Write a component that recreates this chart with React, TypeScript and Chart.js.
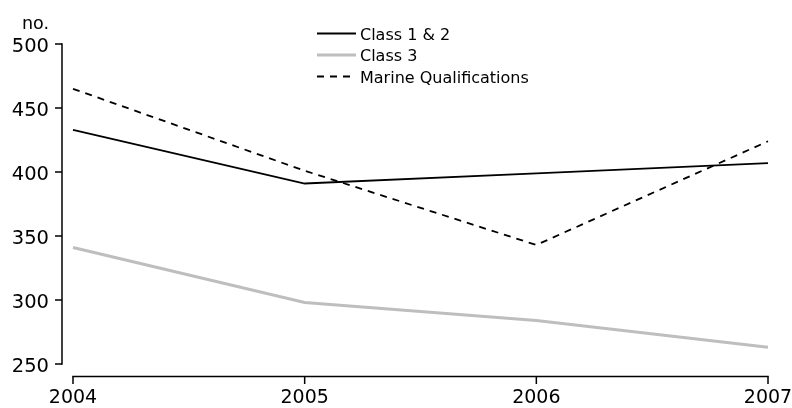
import React, { useEffect, useRef } from "react";
import { Chart, registerables } from "chart.js";

Chart.register(...registerables);

const years = ["2004", "2005", "2006", "2007"];
const class12 = [433, 391, 399, 407];
const class3 = [341, 298, 284, 263];
const marine = [465, 401, 343, 424];
const yTicks = [250, 300, 350, 400, 450, 500];
const yUnit = "no.";

const FONT = "'DejaVu Sans', sans-serif";

const axesPlugin = {
  id: "customAxes",
  afterDraw(chart: any) {
    const ctx = chart.ctx as CanvasRenderingContext2D;
    const xs = chart.scales.x;
    const ys = chart.scales.y;
    ctx.save();
    ctx.strokeStyle = "#000";
    ctx.fillStyle = "#000";
    ctx.lineWidth = 1.5;

    // Y axis
    const axX = 62;
    const yTop = ys.getPixelForValue(yTicks[yTicks.length - 1]);
    const yBot = ys.getPixelForValue(yTicks[0]);
    ctx.beginPath();
    ctx.moveTo(axX, yTop - 0.75);
    ctx.lineTo(axX, yBot + 0.75);
    ctx.stroke();
    ctx.font = `19.5px ${FONT}`;
    ctx.textAlign = "right";
    ctx.textBaseline = "alphabetic";
    yTicks.forEach((v) => {
      const py = ys.getPixelForValue(v);
      ctx.beginPath();
      ctx.moveTo(55, py);
      ctx.lineTo(axX, py);
      ctx.stroke();
      ctx.fillText(String(v), 49, py + 8);
    });

    // unit label
    ctx.font = `17.5px ${FONT}`;
    ctx.textAlign = "right";
    ctx.fillText(yUnit, 49, 28.5);

    // X axis
    const axY = 376.5;
    const xL = xs.getPixelForValue(0);
    const xR = xs.getPixelForValue(years.length - 1);
    ctx.beginPath();
    ctx.moveTo(xL - 0.75, axY);
    ctx.lineTo(xR + 0.75, axY);
    ctx.stroke();
    ctx.font = `19px ${FONT}`;
    ctx.textAlign = "center";
    years.forEach((lab, i) => {
      const px = xs.getPixelForValue(i);
      ctx.beginPath();
      ctx.moveTo(px, axY);
      ctx.lineTo(px, 384);
      ctx.stroke();
      ctx.fillText(lab, px, 403);
    });

    // Legend
    const rows = [33.5, 55, 76.5];
    ctx.font = `16px ${FONT}`;
    ctx.textAlign = "left";
    chart.data.datasets.forEach((ds: any, i: number) => {
      const ry = rows[i];
      ctx.beginPath();
      ctx.strokeStyle = ds.borderColor;
      ctx.lineWidth = ds.borderWidth;
      ctx.setLineDash(ds.borderDash || []);
      ctx.moveTo(317, ry);
      ctx.lineTo(356, ry);
      ctx.stroke();
      ctx.setLineDash([]);
      ctx.fillStyle = "#000";
      ctx.fillText(ds.label, 360, ry + 6);
    });
    ctx.restore();
  },
};

export default function App() {
  const ref = useRef<HTMLCanvasElement | null>(null);
  useEffect(() => {
    if (!ref.current) return;
    const chart = new Chart(ref.current, {
      type: "line",
      data: {
        labels: years,
        datasets: [
          {
            label: "Class 1 & 2",
            data: class12,
            borderColor: "#000000",
            borderWidth: 1.8,
            pointRadius: 0,
            tension: 0,
            fill: false,
          },
          {
            label: "Class 3",
            data: class3,
            borderColor: "#bebebe",
            borderWidth: 3,
            pointRadius: 0,
            tension: 0,
            fill: false,
          },
          {
            label: "Marine Qualifications",
            data: marine,
            borderColor: "#000000",
            borderWidth: 1.8,
            borderDash: [7, 6],
            pointRadius: 0,
            tension: 0,
            fill: false,
          },
        ],
      },
      options: {
        animation: false,
        responsive: false,
        devicePixelRatio: 1,
        layout: { padding: { left: 73, right: 24, top: 44, bottom: 44 } },
        plugins: { legend: { display: false }, tooltip: { enabled: false } },
        scales: {
          x: { type: "category", display: false, offset: false },
          y: { type: "linear", display: false, min: 250, max: 500 },
        },
      },
      plugins: [axesPlugin],
    });
    return () => chart.destroy();
  }, []);
  return (
    <div style={{ position: "fixed", left: 0, top: 0, width: 792, height: 408, background: "#fff" }}>
      <canvas ref={ref} width={792} height={408} style={{ display: "block" }} />
    </div>
  );
}
